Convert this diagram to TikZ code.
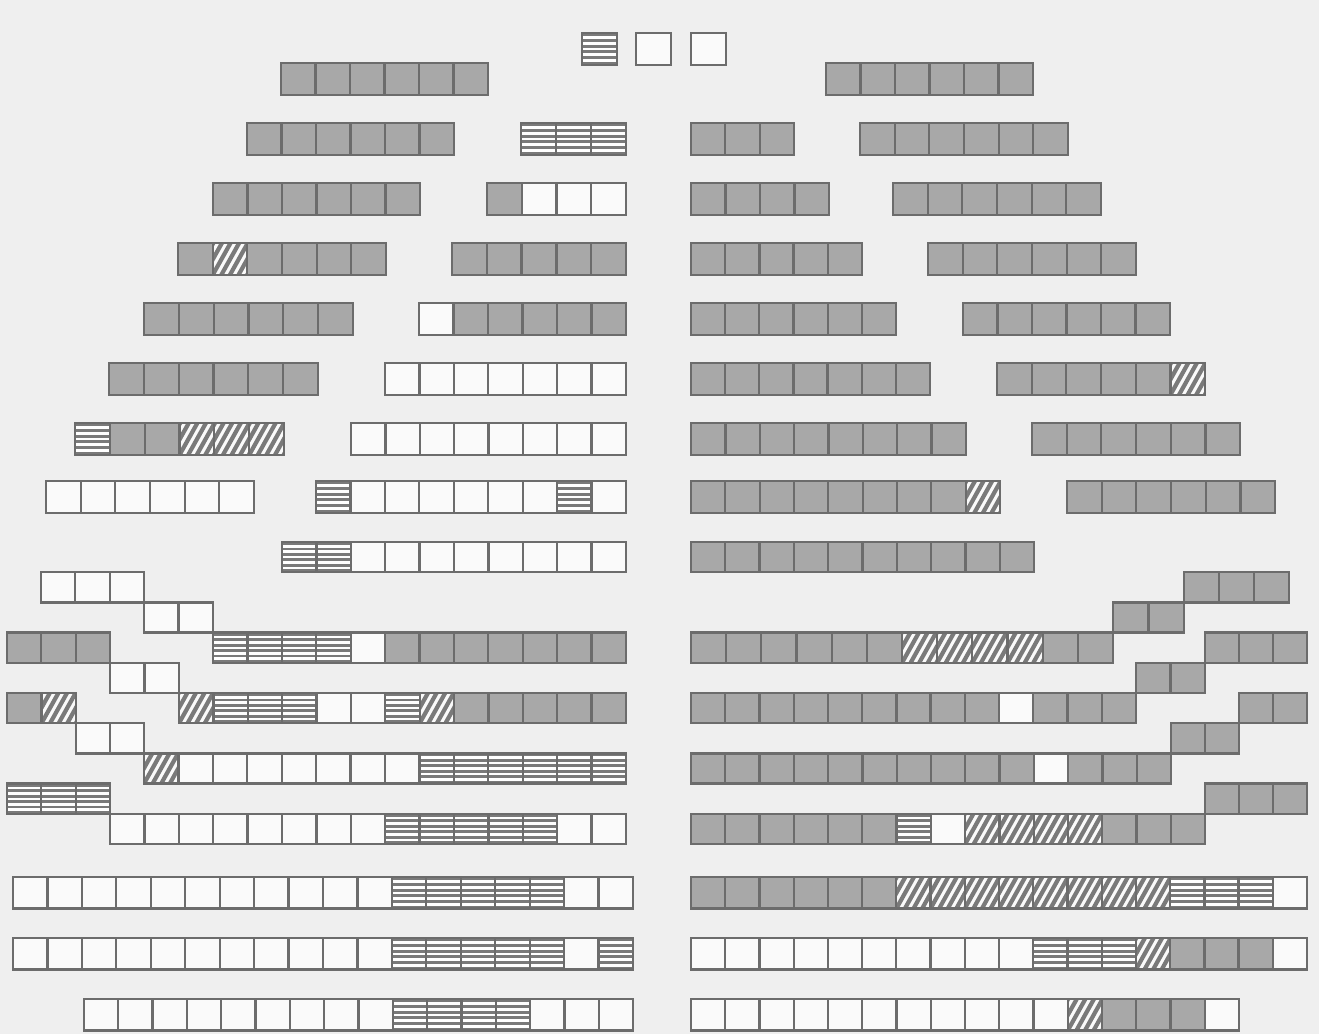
\documentclass[tikz,border=0pt]{standalone}
\definecolor{cgray}{HTML}{A8A8A8}
\definecolor{cdark}{HTML}{7A7A7A}
\definecolor{cedge}{HTML}{6C6C6C}
\definecolor{cwhite}{HTML}{FAFAFA}
\definecolor{cpaper}{HTML}{EFEFEF}
\tikzset{cellline/.style={draw=cedge,line width=2.3pt,line join=miter}}
% cell fills: #1 xa, #2 xb, #3 ytop, #4 ybottom
\newcommand\cellg[4]{\fill[cgray] (#1,#3) rectangle (#2,#4);}
\newcommand\cellw[4]{\fill[cwhite] (#1,#3) rectangle (#2,#4);}
\newcommand\cells[4]{%
  \fill[cdark] (#1,#3) rectangle (#2,#4);
  \foreach \k in {0,...,4}{%
    \pgfmathsetmacro\ya{#3+(#4-#3)*(0.10+\k*0.18)}%
    \pgfmathsetmacro\yc{#3+(#4-#3)*(0.185+\k*0.18)}%
    \fill[white] (#1,\ya) rectangle (#2,\yc);}}
\newcommand\cellh[4]{%
  \begin{scope}
    \clip (#1,#3) rectangle (#2,#4);
    \fill[cwhite] (#1,#3) rectangle (#2,#4);
    \foreach \k in {-3,...,5}{%
      \draw[cdark,line width=4.2pt] (#1+\k*8.6,#4) -- ++(19,-34);}
  \end{scope}}
\newif\iffillpass
% block: x0, x1, n, ytop, height, list of types
\newcommand\blk[6]{%
  \foreach \t [count=\i from 0] in {#6}{%
    \pgfmathsetmacro\xa{#1+\i*(#2-#1)/#3}%
    \pgfmathsetmacro\xb{#1+(\i+1)*(#2-#1)/#3}%
    \pgfmathsetmacro\yb{#4+#5}%
    \iffillpass\csname cell\t\endcsname{\xa}{\xb}{#4}{\yb}%
    \else\draw[cellline] (\xa,#4) rectangle (\xb,\yb);\fi
  }}
\newcommand\allblocks{%
% legend
\blk{582}{617}{1}{33}{32}{s}
\blk{636}{671}{1}{33}{32}{w}
\blk{691}{726}{1}{33}{32}{w}
% row 1
\blk{281}{488}{6}{63}{32}{g,g,g,g,g,g}
\blk{826}{1033}{6}{63}{32}{g,g,g,g,g,g}
% row 2
\blk{247}{454}{6}{123}{32}{g,g,g,g,g,g}
\blk{521}{626}{3}{123}{32}{s,s,s}
\blk{691}{794}{3}{123}{32}{g,g,g}
\blk{860}{1068}{6}{123}{32}{g,g,g,g,g,g}
% row 3
\blk{213}{420}{6}{183}{32}{g,g,g,g,g,g}
\blk{487}{626}{4}{183}{32}{g,w,w,w}
\blk{691}{829}{4}{183}{32}{g,g,g,g}
\blk{893}{1101}{6}{183}{32}{g,g,g,g,g,g}
% row 4
\blk{178}{386}{6}{243}{32}{g,h,g,g,g,g}
\blk{452}{626}{5}{243}{32}{g,g,g,g,g}
\blk{691}{862}{5}{243}{32}{g,g,g,g,g}
\blk{928}{1136}{6}{243}{32}{g,g,g,g,g,g}
% row 5
\blk{144}{353}{6}{303}{32}{g,g,g,g,g,g}
\blk{419}{626}{6}{303}{32}{w,g,g,g,g,g}
\blk{691}{896}{6}{303}{32}{g,g,g,g,g,g}
\blk{963}{1170}{6}{303}{32}{g,g,g,g,g,g}
% row 6
\blk{109}{318}{6}{363}{32}{g,g,g,g,g,g}
\blk{385}{626}{7}{363}{32}{w,w,w,w,w,w,w}
\blk{691}{930}{7}{363}{32}{g,g,g,g,g,g,g}
\blk{997}{1205}{6}{363}{32}{g,g,g,g,g,h}
% row 7
\blk{75}{284}{6}{423}{32}{s,g,g,h,h,h}
\blk{351}{626}{8}{423}{32}{w,w,w,w,w,w,w,w}
\blk{691}{966}{8}{423}{32}{g,g,g,g,g,g,g,g}
\blk{1032}{1240}{6}{423}{32}{g,g,g,g,g,g}
% row 8
\blk{46}{254}{6}{481}{32}{w,w,w,w,w,w}
\blk{316}{626}{9}{481}{32}{s,w,w,w,w,w,w,s,w}
\blk{691}{1000}{9}{481}{32}{g,g,g,g,g,g,g,g,h}
\blk{1067}{1275}{6}{481}{32}{g,g,g,g,g,g}
% row 9
\blk{282}{626}{10}{542}{30.2}{s,s,w,w,w,w,w,w,w,w}
\blk{691}{1034}{10}{542}{30.2}{g,g,g,g,g,g,g,g,g,g}
% stair 1
\blk{41}{144}{3}{572.2}{30.2}{w,w,w}
\blk{1184}{1289}{3}{572.2}{30.2}{g,g,g}
% stair 2
\blk{144}{213}{2}{602.4}{30.2}{w,w}
\blk{1113}{1184}{2}{602.4}{30.2}{g,g}
% row 10
\blk{7}{110}{3}{632.6}{30.2}{g,g,g}
\blk{213}{626}{12}{632.6}{30.2}{s,s,s,s,w,g,g,g,g,g,g,g}
\blk{691}{1113}{12}{632.6}{30.2}{g,g,g,g,g,g,h,h,h,h,g,g}
\blk{1205}{1307}{3}{632.6}{30.2}{g,g,g}
% stair 3
\blk{110}{179}{2}{662.8}{30.2}{w,w}
\blk{1136}{1205}{2}{662.8}{30.2}{g,g}
% row 11
\blk{7}{76}{2}{693}{30.2}{g,h}
\blk{179}{626}{13}{693}{30.2}{h,s,s,s,w,w,s,h,g,g,g,g,g}
\blk{691}{1136}{13}{693}{30.2}{g,g,g,g,g,g,g,g,g,w,g,g,g}
\blk{1239}{1307}{2}{693}{30.2}{g,g}
% stair 4
\blk{76}{144}{2}{723.2}{30.2}{w,w}
\blk{1171}{1239}{2}{723.2}{30.2}{g,g}
% row 12
\blk{144}{626}{14}{753.4}{30.2}{h,w,w,w,w,w,w,w,s,s,s,s,s,s}
\blk{691}{1171}{14}{753.4}{30.2}{g,g,g,g,g,g,g,g,g,g,w,g,g,g}
% stair 5
\blk{7}{110}{3}{783.6}{30.2}{s,s,s}
\blk{1205}{1307}{3}{783.6}{30.2}{g,g,g}
% row 13
\blk{110}{626}{15}{813.8}{30.2}{w,w,w,w,w,w,w,w,s,s,s,s,s,w,w}
\blk{691}{1205}{15}{813.8}{30.2}{g,g,g,g,g,g,s,w,h,h,h,h,g,g,g}
% row 14
\blk{13}{633}{18}{877}{31.5}{w,w,w,w,w,w,w,w,w,w,w,s,s,s,s,s,w,w}
\blk{691}{1307}{18}{877}{31.5}{g,g,g,g,g,g,h,h,h,h,h,h,h,h,s,s,s,w}
% row 15
\blk{13}{633}{18}{938}{31.5}{w,w,w,w,w,w,w,w,w,w,w,s,s,s,s,s,w,s}
\blk{691}{1307}{18}{938}{31.5}{w,w,w,w,w,w,w,w,w,w,s,s,s,h,g,g,g,w}
% row 16
\blk{84}{633}{16}{999}{31.5}{w,w,w,w,w,w,w,w,w,s,s,s,s,w,w,w}
\blk{691}{1239}{16}{999}{31.5}{w,w,w,w,w,w,w,w,w,w,w,h,g,g,g,w}
}
\begin{document}
\begin{tikzpicture}[x=1pt,y=-1pt]
\useasboundingbox (0,0) rectangle (1319,1034);
\fill[cpaper] (0,0) rectangle (1319,1034);
\fillpasstrue
\allblocks
\fillpassfalse
\allblocks
\end{tikzpicture}
\end{document}
